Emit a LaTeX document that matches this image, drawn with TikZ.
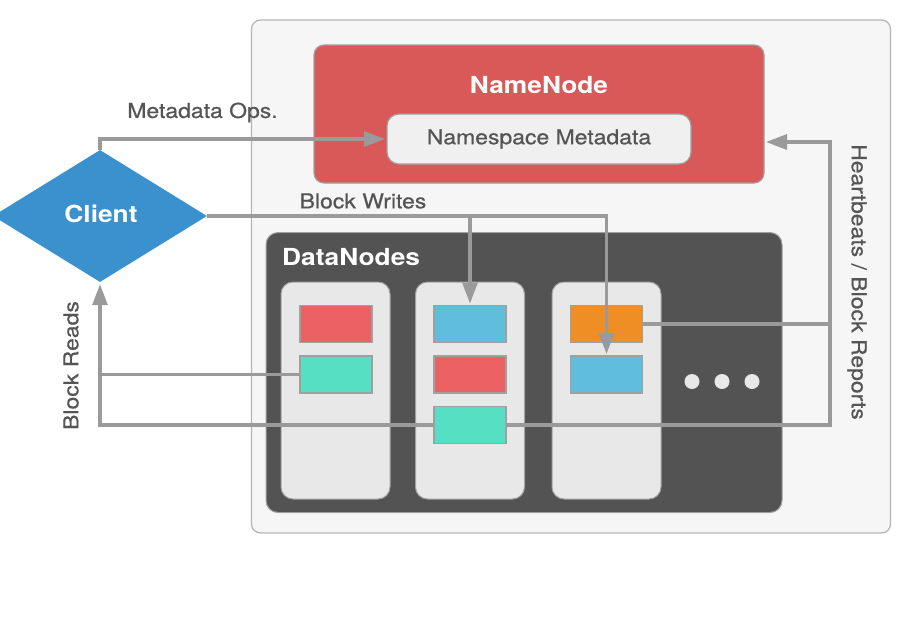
\documentclass[tikz,border=0pt]{standalone}
\usepackage{fontspec}
\setmainfont{TeX Gyre Heros}[FakeStretch=1.12]
\newfontfamily\medfont{TeX Gyre Heros}[FakeStretch=1.12,FakeBold=0.6]
\usetikzlibrary{shapes.geometric,arrows.meta,calc}
\definecolor{outerfill}{HTML}{F6F6F6}
\definecolor{outerline}{HTML}{B5B5B5}
\definecolor{nnfill}{HTML}{D95858}
\definecolor{nsfill}{HTML}{F0F0F0}
\definecolor{darkfill}{HTML}{535353}
\definecolor{colfill}{HTML}{E8E8E8}
\definecolor{bred}{HTML}{EC6161}
\definecolor{bteal}{HTML}{57DFC4}
\definecolor{bblue}{HTML}{5EBEDB}
\definecolor{borange}{HTML}{EE8E25}
\definecolor{clientfill}{HTML}{3A91CD}
\definecolor{conn}{HTML}{9A9A9A}
\definecolor{labeltxt}{HTML}{555555}
\definecolor{boxline}{HTML}{A0A0A0}
\begin{document}
\begin{tikzpicture}[x=1pt,y=-1pt,
  box/.style={rectangle,inner sep=0pt,outer sep=0pt},
  outerbox/.style={box,fill=outerfill,draw=outerline,line width=1.2pt,rounded corners=9pt},
  nnbox/.style={box,fill=nnfill,draw=boxline,line width=1.2pt,rounded corners=10pt},
  nsbox/.style={box,fill=nsfill,draw=boxline,line width=1.2pt,rounded corners=12pt},
  darkbox/.style={box,fill=darkfill,draw=boxline,line width=1pt,rounded corners=12pt},
  colbox/.style={box,fill=colfill,draw=boxline,line width=1pt,rounded corners=12pt,minimum width=109pt,minimum height=217pt},
  blk/.style={box,draw=boxline,line width=1.3pt,minimum width=72pt,minimum height=37pt},
  wire/.style={draw=conn,line width=3.2pt},
  arr/.style={wire,-{Triangle[length=21pt,width=15pt]},shorten >=2pt},
  lbl/.style={text=labeltxt,font=\medfont\fontsize{20.5}{24}\selectfont,inner sep=0pt},
  title/.style={text=white,font=\fontsize{23.5}{28}\selectfont\bfseries,inner sep=0pt},
  dot/.style={circle,fill=colfill,inner sep=0pt,minimum size=15pt}
]
\useasboundingbox (0,0) rectangle (922,622);
\fill[white] (0,0) rectangle (922,622);

\node[outerbox,minimum width=639pt,minimum height=513pt] (sys) at (571,276.5) {};

\node[nnbox,minimum width=450pt,minimum height=138pt] (nn) at (539,114) {};
\node[title] (nnlabel) at (539,85) {NameNode};
\node[nsbox,minimum width=304pt,minimum height=50pt] (ns) at (539,139)
  {\color{labeltxt}\medfont\fontsize{20.5}{24}\selectfont Namespace Metadata};

\node[darkbox,minimum width=516pt,minimum height=280pt] (dn) at (524,372.5) {};
\node[title,anchor=west] (dnlabel) at (282,257) {DataNodes};

\node[colbox] (c1) at (335.5,390.5) {};
\node[colbox] (c2) at (470,390.5) {};
\node[colbox] (c3) at (606.5,390.5) {};

\node[blk,fill=bred] (b11) at (336,324) {};
\node[blk,fill=bteal] (b12) at (336,374.5) {};
\node[blk,fill=bblue] (b21) at (470,324) {};
\node[blk,fill=bred] (b22) at (470,374.5) {};
\node[blk,fill=bteal] (b23) at (470,425) {};
\node[blk,fill=borange] (b31) at (606.5,324) {};
\node[blk,fill=bblue] (b32) at (606.5,374.5) {};

\node[dot] (d1) at (692,381.5) {};
\node[dot] (d2) at (722,381.5) {};
\node[dot] (d3) at (752,381.5) {};

\node[diamond,fill=clientfill,inner sep=0pt,minimum width=214pt,minimum height=132pt] (client) at (100,216) {};
\node[title] (clientlabel) at (101,214) {Client};

% Metadata ops
\draw[arr] (client.north) |- (ns.west);
\node[lbl] (mdops) at (202.5,112.5) {Metadata Ops.};

% Block writes
\coordinate (wsplit) at (b21.north |- client.east);
\draw[arr] (client.east) -| (b32.north);
\draw[arr] (wsplit) -- (b21.north);
\node[lbl] (bw) at (363,201) {Block Writes};

% Block reads
\draw[arr] (b12.west) -| (client.south);
\draw[wire] (b23.west) -| (client.south |- b12.west);
\node[lbl,rotate=90] (br) at (71,365.5) {Block Reads};

% Heartbeats
\coordinate (hbr) at (830,142);
\coordinate (hbin) at (764,142);
\draw[arr] (b23.east) -| (hbr) -- (hbin);
\draw[wire] (b31.east) -- (b31.east -| hbr);
\node[lbl,rotate=-90] (hb) at (857,282) {Heartbeats / Block Reports};
\end{tikzpicture}
\end{document}
